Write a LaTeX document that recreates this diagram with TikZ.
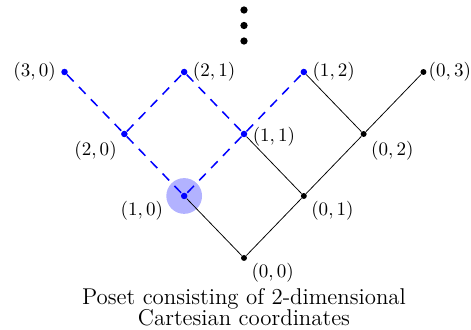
\documentclass[tikz,border=0pt]{standalone}
\usetikzlibrary{positioning}
\tikzset{
  %% 偏序集的点
  pt/.style={circle,fill=black,inner sep=0pt,minimum size=0.11cm},
  bpt/.style={circle,fill=blue,inner sep=0pt,minimum size=0.12cm},
  vdot/.style={circle,fill=black,inner sep=0pt,minimum size=0.135cm},
  %% 边
  kedge/.style={thin,black},
  bedge/.style={thick,blue,dash pattern=on 5pt off 4pt},
  %% 标注
  lbl/.style={font=\normalsize,inner sep=2.5pt},
}

\begin{document}
\begin{tikzpicture}[x=1.105cm,y=1.145cm]
    \useasboundingbox (-4.507cm,-1.33cm) rectangle (4.193cm,4.765cm);

    %% ── 高亮圆 ──────────────────────────────────────────
    \fill[blue!30] (-1,1) circle (0.33cm);

    %% ── 点：(i,j) 画在 (j-i, i+j) ────────────────────────
    \node[pt]  (n00) at ( 0,0) {};
    \node[bpt] (n10) at (-1,1) {};
    \node[pt]  (n01) at ( 1,1) {};
    \node[bpt] (n20) at (-2,2) {};
    \node[bpt] (n11) at ( 0,2) {};
    \node[pt]  (n02) at ( 2,2) {};
    \node[bpt] (n30) at (-3,3) {};
    \node[bpt] (n21) at (-1,3) {};
    \node[bpt] (n12) at ( 1,3) {};
    \node[pt]  (n03) at ( 3,3) {};

    %% 竖省略号
    \node[vdot] (d1) at (0,3.5)  {};
    \node[vdot] (d2) at (0,3.75) {};
    \node[vdot] (d3) at (0,4.0)  {};

    %% ── 蓝色虚线边 ──────────────────────────────────────
    \draw[bedge] (n30) -- (n20);
    \draw[bedge] (n20) -- (n21);
    \draw[bedge] (n20) -- (n10);
    \draw[bedge] (n21) -- (n11);
    \draw[bedge] (n11) -- (n10);
    \draw[bedge] (n11) -- (n12);

    %% ── 黑色实线边 ──────────────────────────────────────
    \draw[kedge] (n10) -- (n00);
    \draw[kedge] (n00) -- (n01);
    \draw[kedge] (n01) -- (n11);
    \draw[kedge] (n01) -- (n02);
    \draw[kedge] (n02) -- (n12);
    \draw[kedge] (n02) -- (n03);

    %% ── 坐标标注 ────────────────────────────────────────
    \node[lbl,left=0pt of n30]        (l30) {$(3,0)$};
    \node[lbl,right=0pt of n21]       (l21) {$(2,1)$};
    \node[lbl,right=0pt of n12]       (l12) {$(1,2)$};
    \node[lbl,right=-0.06cm of n03]   (l03) {$(0,3)$};
    \node[lbl,below left=0pt of n20]  (l20) {$(2,0)$};
    \node[lbl,right=0pt of n11,yshift=-0.05cm] (l11) {$(1,1)$};
    \node[lbl,below right=0pt of n02] (l02) {$(0,2)$};
    \node[lbl,below left=-0.05cm and 0.25cm of n10] (l10) {$(1,0)$};
    \node[lbl,below right=-0.05cm and 0pt of n01]   (l01) {$(0,1)$};
    \node[lbl,below right=-0.05cm and 0pt of n00]   (l00) {$(0,0)$};

    %% ── 图题 ────────────────────────────────────────────
    \node[font=\large,align=center,inner sep=0pt] (cap) at (0,-0.8)
      {Poset consisting of 2-dimensional\\[-3pt]Cartesian coordinates};
\end{tikzpicture}
\end{document}
